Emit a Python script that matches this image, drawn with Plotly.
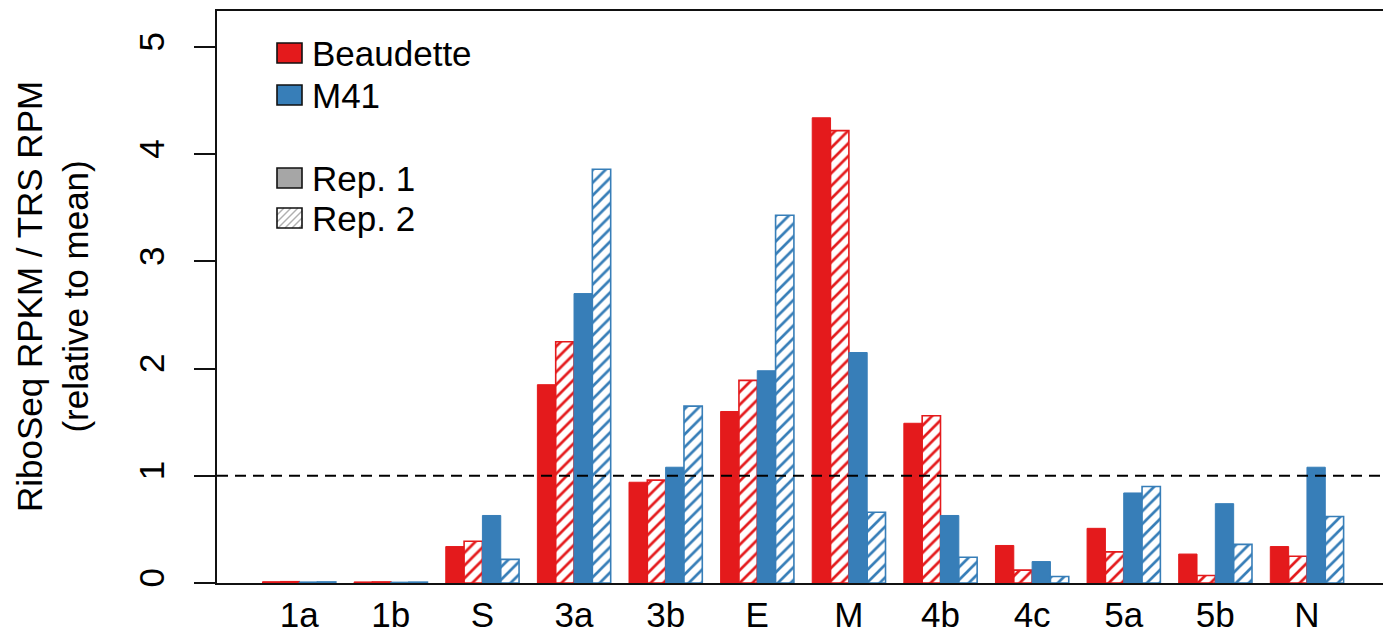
import plotly.graph_objects as go

# ---- data ----
genes = ["1a", "1b", "S", "3a", "3b", "E", "M", "4b", "4c", "5a", "5b", "N"]
beaudette_rep1 = [0.012, 0.010, 0.34, 1.85, 0.94, 1.60, 4.34, 1.49, 0.35, 0.51, 0.27, 0.34]
beaudette_rep2 = [0.012, 0.010, 0.39, 2.25, 0.96, 1.89, 4.22, 1.56, 0.12, 0.29, 0.07, 0.25]
m41_rep1 = [0.010, 0.008, 0.63, 2.70, 1.08, 1.98, 2.15, 0.63, 0.20, 0.84, 0.74, 1.08]
m41_rep2 = [0.010, 0.008, 0.22, 3.86, 1.65, 3.43, 0.66, 0.24, 0.06, 0.90, 0.36, 0.62]
y_ticks = [0, 1, 2, 3, 4, 5]
reference_level = 1

RED = "#e41a1c"
BLUE = "#377eb8"
FONT = "Liberation Sans"
FS = 35

W, H = 1383, 635
L, R, T, B = 217, 0, 11, 52
PW, PH = W - L - R, H - T - B


def px(x):
    return (x - L) / PW


def py(y):
    return (H - B - y) / PH


fig = go.Figure()


def solid(name, vals, color):
    return go.Bar(name=name, x=genes, y=vals, marker=dict(color=color, line=dict(color=color, width=1)),
                  showlegend=False)


def hatched(name, vals, color):
    return go.Bar(name=name, x=genes, y=vals,
                  marker=dict(color="white", line=dict(color=color, width=1.6),
                              pattern=dict(shape="/", fgcolor=color, bgcolor="white", size=9,
                                           solidity=0.3, fillmode="replace")),
                  showlegend=False)


fig.add_trace(solid("Beaudette Rep. 1", beaudette_rep1, RED))
fig.add_trace(hatched("Beaudette Rep. 2", beaudette_rep2, RED))
fig.add_trace(solid("M41 Rep. 1", m41_rep1, BLUE))
fig.add_trace(hatched("M41 Rep. 2", m41_rep2, BLUE))

# dashed reference line
fig.add_shape(type="line", xref="paper", yref="y", x0=0, x1=1, y0=reference_level, y1=reference_level,
              line=dict(color="black", width=2, dash="11px,7px"))

# ---- manual legend ----
legend_rows = [("Beaudette", 53, RED, "solid"), ("M41", 95, BLUE, "solid"),
               ("Rep. 1", 178, "#a6a6a6", "solid"), ("Rep. 2", 218, "white", "hatch")]
bx0, bx1, bh = 277, 302, 20
for label, cy, col, kind in legend_rows:
    y0p, y1p = cy - bh / 2, cy + bh / 2
    if kind == "hatch":
        step = 7
        c = bx0 + y0p + step
        while c < bx1 + y1p:
            xa = max(bx0, c - y1p)
            xb = min(bx1, c - y0p)
            if xb > xa:
                fig.add_shape(type="line", xref="paper", yref="paper",
                              x0=px(xa), y0=py(c - xa), x1=px(xb), y1=py(c - xb),
                              line=dict(color="#b0b0b0", width=1.5))
            c += step
        fill = "rgba(0,0,0,0)"
    else:
        fill = col
    fig.add_shape(type="rect", xref="paper", yref="paper", x0=px(bx0), x1=px(bx1), y0=py(y1p), y1=py(y0p),
                  line=dict(color="#111111", width=1.6), fillcolor=fill)
    fig.add_annotation(xref="paper", yref="paper", x=px(bx1 + 8), y=py(cy), text=label, showarrow=False,
                       xanchor="left", yanchor="middle", font=dict(family=FONT, size=FS, color="black"))

# y-axis title
fig.add_annotation(xref="paper", yref="paper", x=px(52), y=0.5,
                   text="RiboSeq RPKM / TRS RPM<br>(relative to mean)", textangle=-90, showarrow=False,
                   xanchor="center", yanchor="middle", font=dict(family=FONT, size=FS, color="black"))

fig.update_layout(
    width=W, height=H, margin=dict(l=L, r=R, t=T, b=B, pad=0),
    paper_bgcolor="white", plot_bgcolor="white",
    barmode="group", bargap=0.2, bargroupgap=0,
    font=dict(family=FONT, size=FS, color="black"),
    xaxis=dict(type="category", range=[-0.897, 11.83], showline=True, linecolor="#111111", linewidth=2,
               mirror=True, ticks="", showgrid=False, zeroline=False,
               tickfont=dict(family=FONT, size=FS, color="black")),
    yaxis=dict(range=[0, 5.336], tickvals=y_ticks, ticktext=[str(v) for v in y_ticks], tickangle=-90,
               showline=True, linecolor="#111111", linewidth=1.6, mirror=False,
               ticks="outside", ticklen=21, tickwidth=1.6, tickcolor="#111111", ticklabelstandoff=16,
               showgrid=False, zeroline=False, tickfont=dict(family=FONT, size=FS, color="black")),
)

fig.write_html("out.html", config={"displayModeBar": False},
               post_script="document.body.style.margin='0px';document.body.style.overflow='hidden';")
